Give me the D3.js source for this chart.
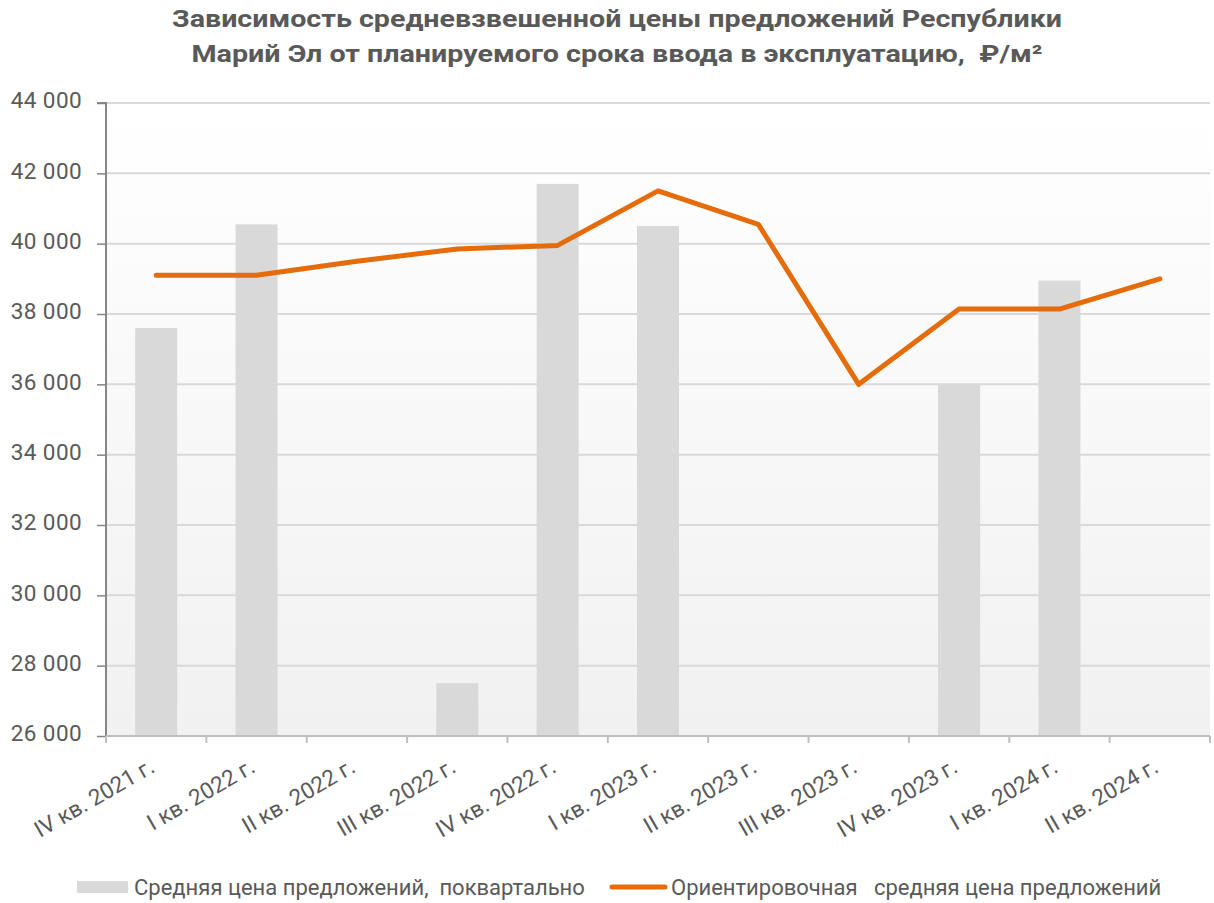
<!DOCTYPE html>
<html><head><meta charset="utf-8">
<script src="https://cdn.jsdelivr.net/npm/d3@7"></script>
<style>body{margin:0;background:#fff}svg{display:block;font-family:Roboto,"Noto Sans",sans-serif}</style>
</head><body><svg id="c" width="1214" height="903"></svg>
<script>
const categories = ["IV кв. 2021 г.","I кв. 2022 г.","II кв. 2022 г.","III кв. 2022 г.","IV кв. 2022 г.","I кв. 2023 г.","II кв. 2023 г.","III кв. 2023 г.","IV кв. 2023 г.","I кв. 2024 г.","II кв. 2024 г."];
const barValues = [37600, 40550, null, 27500, 41700, 40500, null, null, 36000, 38950, null];
const lineValues = [39100, 39100, 39500, 39850, 39950, 41500, 40550, 36000, 38140, 38140, 39000];
const yTicks = [26000,28000,30000,32000,34000,36000,38000,40000,42000,44000];
const seriesNames = ["Средняя цена предложений,  поквартально","Ориентировочная   средняя цена предложений"];
const titleLines = ["Зависимость средневзвешенной цены предложений Республики","Марий Эл от планируемого срока ввода в эксплуатацию,  ₽/м²"];

const svg = d3.select("#c");
const L=106, R=1210, T=103, B=736;
const FS = 22.5, TXT = "#595959";
const x = d3.scaleBand().domain(categories).range([L,R]).paddingInner(0).paddingOuter(0);
const y = d3.scaleLinear().domain([26000,44000]).range([B,T]);
const fmt = v => d3.format(",")(v).replace(/,/g," ");

const defs = svg.append("defs");
const g = defs.append("linearGradient").attr("id","bg").attr("x1",0).attr("y1",0).attr("x2",0).attr("y2",1);
g.append("stop").attr("offset","0%").attr("stop-color","#ffffff");
g.append("stop").attr("offset","100%").attr("stop-color","#f1f1f1");
svg.append("rect").attr("x",L).attr("y",T).attr("width",R-L).attr("height",B-T).attr("fill","url(#bg)");

// title
svg.append("g").selectAll("text").data(titleLines).join("text")
  .attr("x",617).attr("y",(d,i)=>27+i*35).attr("text-anchor","middle")
  .attr("font-size",24.5).attr("font-weight","bold").attr("fill",TXT)
  .attr("textLength",(d,i)=>i===0?890:851).attr("lengthAdjust","spacingAndGlyphs")
  .attr("xml:space","preserve")
  .text(d=>d);

// gridlines
svg.append("g").selectAll("line").data(yTicks.filter(v=>v>26000)).join("line")
  .attr("x1",L).attr("x2",R).attr("y1",d=>y(d)).attr("y2",d=>y(d))
  .attr("stroke","#d9d9d9").attr("stroke-width",2);

// bars
svg.append("g").selectAll("rect").data(categories.map((c,i)=>({c,v:barValues[i]})).filter(d=>d.v!=null)).join("rect")
  .attr("x",d=>x(d.c)+x.bandwidth()/2-21).attr("width",42)
  .attr("y",d=>y(d.v)).attr("height",d=>B-y(d.v)).attr("fill","#d9d9d9");

// y axis
const ya = svg.append("g").attr("transform",`translate(${L},0)`)
  .call(d3.axisLeft(y).tickValues(yTicks).tickSize(9).tickPadding(15).tickFormat(fmt));
ya.select(".domain").attr("stroke","#868686").attr("stroke-width",2).attr("d",`M-9,${T}H0V${B}`);
ya.selectAll(".tick line").attr("stroke","#868686").attr("stroke-width",1.5);
ya.selectAll("text").attr("font-size",FS).attr("fill",TXT).attr("font-family","Roboto").attr("dy","0.22em")
  .attr("letter-spacing","0.4px");

// x axis
const xa = svg.append("g").attr("transform",`translate(0,${B})`);
xa.append("line").attr("x1",L).attr("x2",R).attr("stroke","#bfbfbf").attr("stroke-width",2);
const bounds = categories.map(c=>x(c)).concat([R]);
xa.selectAll("line.t").data(bounds).join("line").attr("class","t")
  .attr("x1",d=>d).attr("x2",d=>d).attr("y1",0).attr("y2",7).attr("stroke","#bfbfbf").attr("stroke-width",2);
xa.selectAll("text").data(categories).join("text")
  .attr("transform",d=>`translate(${x(d)+x.bandwidth()/2},${35}) rotate(-30)`)
  .attr("text-anchor","end").attr("font-size",FS).attr("fill",TXT)
  .text(d=>d);

// line
const line = d3.line().x((d,i)=>x(categories[i])+x.bandwidth()/2).y(d=>y(d));
svg.append("path").datum(lineValues).attr("d",line).attr("fill","none")
  .attr("stroke","#E46C0A").attr("stroke-width",5).attr("stroke-linejoin","round").attr("stroke-linecap","round");

// legend
const LFS = 22;
const lg = svg.append("g");
lg.append("rect").attr("x",77).attr("y",881).attr("width",51).attr("height",12).attr("fill","#d9d9d9");
lg.append("text").attr("x",134).attr("y",895).attr("font-size",LFS).attr("fill",TXT)
  .attr("xml:space","preserve").text(seriesNames[0]);
lg.append("line").attr("x1",612).attr("x2",665).attr("y1",887).attr("y2",887)
  .attr("stroke","#E46C0A").attr("stroke-width",5).attr("stroke-linecap","round");
lg.append("text").attr("x",671).attr("y",895).attr("font-size",LFS).attr("fill",TXT)
  .attr("xml:space","preserve").text(seriesNames[1]);
</script></body></html>
